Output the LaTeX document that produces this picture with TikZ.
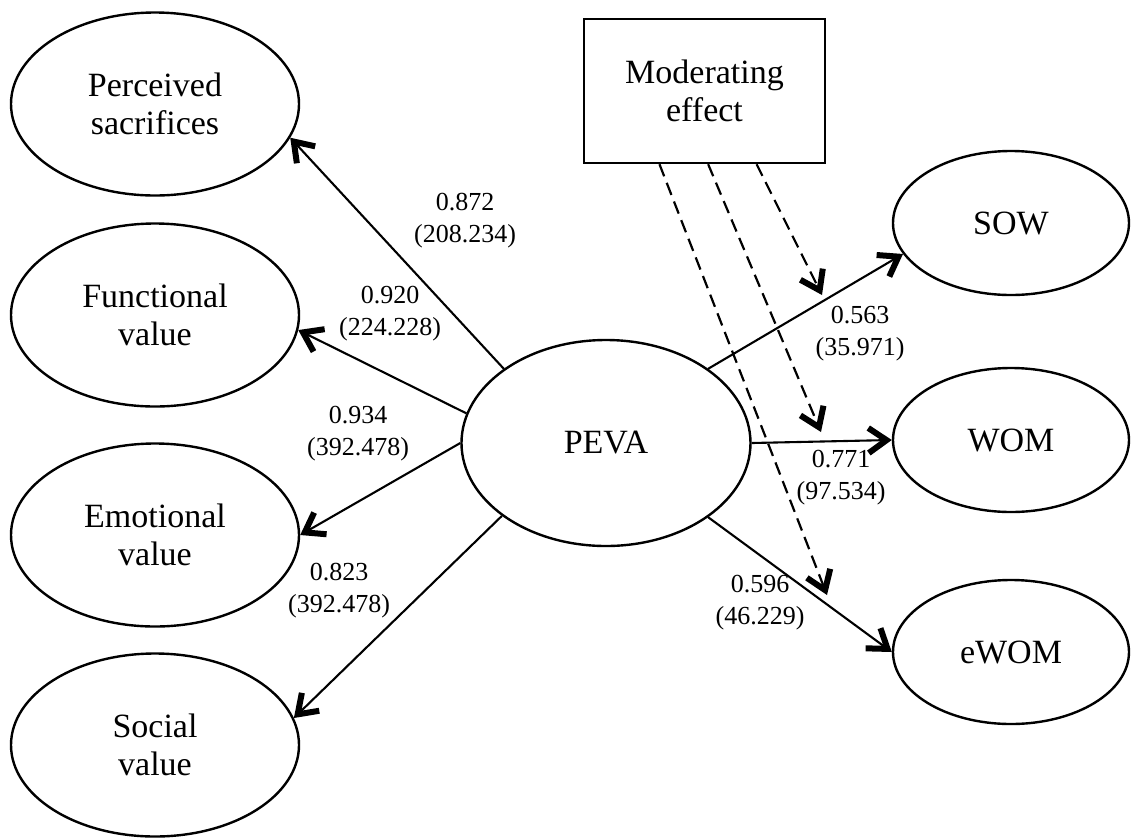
\documentclass[tikz,border=0pt]{standalone}
\usepackage{fontspec}
\setmainfont{Liberation Serif}
\usetikzlibrary{arrows.meta,calc,shapes.geometric}

\tikzset{
  construct/.style={draw, ellipse, line width=1.2pt, inner sep=0pt, align=center,
    font=\fontsize{17}{19}\selectfont},
  smallc/.style={construct, minimum width=118pt, minimum height=72pt},
  leftc/.style={construct, minimum width=144pt, minimum height=91.5pt},
  modbox/.style={draw, rectangle, line width=1.2pt, minimum width=120.5pt,
    minimum height=72pt, align=center, font=\fontsize{17}{19}\selectfont},
  coef/.style={align=center, inner sep=0pt, font=\fontsize{13}{16}\selectfont},
  arr/.style={line width=1.05pt,
    -{Straight Barb[length=9pt,width=12.5pt,line width=3pt]}},
  modarr/.style={arr, line width=1.1pt, dash pattern=on 6.5pt off 3.5pt}
}

\begin{document}
\begin{tikzpicture}[x=0.5pt, y=-0.5pt]
\useasboundingbox (0,0) rectangle (1131,837);

% outer constructs
\node[leftc] (ps) at (155,104) {Perceived\\sacrifices};
\node[leftc] (fv) at (155,315) {Functional\\value};
\node[leftc] (ev) at (155,535) {Emotional\\value};
\node[leftc] (sv) at (155,745) {Social\\value};

% central construct
\node[construct, minimum width=144.5pt, minimum height=103pt] (peva) at (606,443) {PEVA};

% outcomes
\node[smallc] (sow) at (1011,223) {SOW};
\node[smallc] (wom) at (1011,440) {WOM};
\node[smallc] (ewom) at (1011,652) {eWOM};

% moderator
\node[modbox] (mod) at (704.5,91) {Moderating\\effect};

% loadings
\draw[arr] (peva.144) -- (ps.-14);
\draw[arr] (peva.168) -- (fv.-6);
\draw[arr] (peva.180) -- (ev.0);
\draw[arr] (peva.215) -- (sv.11);

% structural paths
\draw[arr] (peva.36) -- (sow.196);
\draw[arr] (peva.0) -- (wom.180);
\draw[arr] (peva.-36) -- (ewom.180);

% moderating paths
\coordinate (m1) at (822,295);
\coordinate (m2) at (821,432);
\coordinate (m3) at (827,595);
\draw[modarr] ($(mod.south west)!0.714!(mod.south east)$) -- (m1);
\draw[modarr] ($(mod.south west)!0.515!(mod.south east)$) -- (m2);
\draw[modarr] ($(mod.south west)!0.315!(mod.south east)$) -- (m3);

% coefficients
\node[coef] (c1) at (465,221) {0.872\\(208.234)};
\node[coef] (c2) at (390,314) {0.920\\(224.228)};
\node[coef] (c3) at (358,434) {0.934\\(392.478)};
\node[coef] (c4) at (339,591) {0.823\\(392.478)};
\node[coef] (c5) at (860,334) {0.563\\(35.971)};
\node[coef] (c6) at (841,478) {0.771\\(97.534)};
\node[coef] (c7) at (760,603) {0.596\\(46.229)};
\end{tikzpicture}
\end{document}
